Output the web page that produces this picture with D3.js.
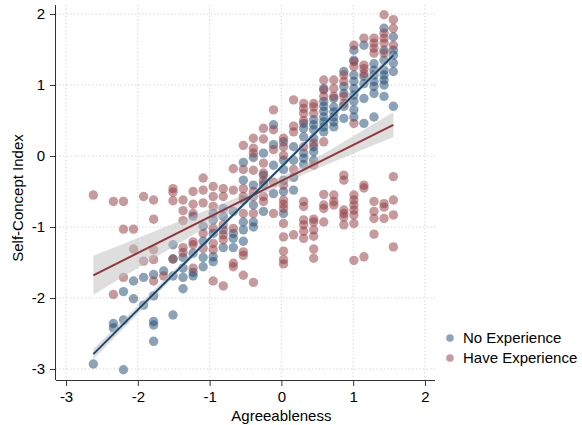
<!DOCTYPE html>
<html>
<head>
<meta charset="utf-8">
<script src="https://cdn.jsdelivr.net/npm/d3@7"></script>
<style>
    body { margin: 0; background: #fff; }
    svg text { font-family: "Liberation Sans", Arial, sans-serif; fill: #000; }
    .grid line { stroke: #cfcfcf; stroke-width: 1; stroke-dasharray: 1.2,2.4; }
</style>
</head>
<body>
<svg id="chart"></svg>
<script>
// Agreeableness takes discrete values (one column per level)
const agreeLevels = [-2.62, -2.48, -2.34, -2.20, -2.06, -1.92, -1.78, -1.64, -1.51, -1.37,
    -1.23, -1.09, -0.95, -0.81, -0.67, -0.53, -0.39, -0.25, -0.11, 0.03,
    0.17, 0.31, 0.45, 0.59, 0.73, 0.87, 1.01, 1.15, 1.29, 1.43, 1.56];

// Self-concept index values for each agreeableness level
const noExperience = [
    [-2.93], [], [-2.36, -2.42], [-1.91, -2.31, -3.01], [-1.76, -2.01],
    [-1.71, -2.10], [-1.67, -1.97, -2.33, -2.38, -2.61], [-1.62], [-1.25, -1.45, -1.69, -2.24],
    [-1.43, -1.58, -1.71, -1.87], [-0.85, -1.37, -1.64, -1.69], [-0.99, -1.20, -1.43, -1.56],
    [-0.81, -0.90, -1.09, -1.42, -1.49], [-0.74, -0.85, -1.04, -1.29], [-0.78, -1.09, -1.16, -1.29],
    [-0.09, -0.34, -0.62, -0.93, -1.04, -1.20], [-0.02, -0.41, -0.69, -0.93, -1.00],
    [0.04, -0.27, -0.40, -0.78], [0.44, 0.16, -0.13, -0.53],
    [0.20, -0.06, -0.19, -0.34, -0.50, -0.81], [0.13, -0.06, -0.30, -0.48],
    [0.46, 0.39, 0.27, 0.04, -0.03, -0.12], [0.51, 0.44, 0.37, 0.25, 0.13, 0.06, -0.06],
    [0.95, 0.77, 0.70, 0.63, 0.55, 0.48, 0.41, 0.34], [0.81, 0.69, 0.62, 0.55, 0.48, 0.41],
    [1.19, 0.98, 0.88, 0.70, 0.53], [1.49, 1.35, 1.14, 1.05, 0.95, 0.86, 0.77, 0.65, 0.55],
    [1.56, 1.12, 1.02, 0.81, 0.46], [1.30, 1.21, 1.14, 1.05, 0.98, 0.88, 0.55],
    [1.80, 1.49, 1.35, 1.21, 1.14, 1.07, 1.00, 0.84], [1.68, 1.49, 1.42, 1.31, 1.19, 0.70]
];

const haveExperience = [
    [-0.55], [], [-0.64, -1.95], [-0.64, -1.03, -1.71], [-1.03, -1.31],
    [-0.57, -1.48], [-0.62, -0.89, -1.32, -1.46, -1.76], [-1.69], [-0.46, -0.51, -0.63, -1.45],
    [-0.62, -0.77, -0.91, -1.29, -1.36], [-0.50, -0.68, -0.81, -1.21, -1.25, -1.58],
    [-0.31, -0.48, -0.66, -1.09, -1.30], [-0.43, -0.57, -0.71, -1.02, -1.23, -1.32, -1.76],
    [-0.46, -0.57, -0.97, -1.11, -1.18, -1.83], [-0.18, -0.48, -1.02, -1.51, -1.56],
    [0.15, -0.19, -0.46, -0.57, -0.81, -1.35, -1.40, -1.68],
    [0.25, 0.11, 0.04, -0.20, -0.50, -0.57, -0.81, -1.78],
    [0.39, 0.24, -0.10, -0.24, -0.35, -0.57, -0.64], [0.65, 0.37, 0.09, -0.37, -0.81],
    [0.25, 0.13, 0.01, -0.41, -0.62, -0.68, -0.74, -0.95, -1.14, -1.34, -1.46, -1.52],
    [0.79, 0.42, 0.34, -0.19, -1.11],
    [0.74, 0.67, 0.60, 0.50, 0.13, -0.64, -0.71, -0.90, -0.97, -1.06, -1.16],
    [0.74, 0.69, 0.60, 0.18, -0.13, -0.89, -0.93, -1.04, -1.13, -1.31, -1.44],
    [1.07, 0.93, 0.84, 0.20, -0.54, -0.69, -0.74, -0.93], [1.07, 0.95, 0.84, -0.55, -0.64, -0.69],
    [1.14, 1.05, 0.84, 0.74, -0.27, -0.34, -0.76, -0.81, -0.86, -0.97],
    [1.56, 1.33, 1.26, 0.46, -0.55, -0.62, -0.69, -0.76, -0.83, -0.95, -1.47],
    [1.66, 1.28, 1.23, 1.16, -0.41, -0.45, -1.42],
    [1.66, 1.59, 1.52, 1.45, -0.64, -0.78, -0.88, -1.10],
    [1.99, 1.73, 1.66, 1.59, 1.45, -0.67, -0.72, -0.88],
    [1.92, 1.80, 1.56, -0.29, -0.62, -0.83, -1.28]
];

// linear fits with 95% CI
const fitX = [-2.62, -2.0, -1.25, -0.5, 0.25, 1.0, 1.56];
const noExpFit = [-2.790, -2.166, -1.410, -0.655, 0.100, 0.855, 1.419];
const noExpLo = [-2.865, -2.224, -1.452, -0.685, 0.072, 0.815, 1.359];
const noExpHi = [-2.715, -2.108, -1.368, -0.625, 0.128, 0.895, 1.479];
const haveExpFit = [-1.680, -1.366, -0.986, -0.606, -0.225, 0.155, 0.439];
const haveExpLo = [-1.955, -1.578, -1.124, -0.680, -0.289, 0.033, 0.263];
const haveExpHi = [-1.405, -1.154, -0.848, -0.532, -0.161, 0.277, 0.615];

const xTicks = [-3, -2, -1, 0, 1, 2];
const yTicks = [-3, -2, -1, 0, 1, 2];
const groups = ['No Experience', 'Have Experience'];

const colors = {'No Experience': '#1a476f', 'Have Experience': '#90353b'};

const width = 582, height = 425;
const plot = {left: 56, right: 435, top: 5, bottom: 380};

const svg = d3.select('#chart')
    .attr('width', width)
    .attr('height', height);

// scales
const xScale = d3.scaleLinear()
    .domain([-3.14, 2.14])
    .range([plot.left, plot.right]);
const yScale = d3.scaleLinear()
    .domain([-3.155, 2.127])
    .range([plot.bottom, plot.top]);

// gridlines
const grid = svg.append('g').attr('class', 'grid');
grid.selectAll('.gx')
    .data(xTicks)
    .join('line')
    .attr('x1', d => xScale(d)).attr('x2', d => xScale(d))
    .attr('y1', plot.top).attr('y2', plot.bottom);
grid.selectAll('.gy')
    .data(yTicks)
    .join('line')
    .attr('class', 'gy')
    .attr('x1', plot.left).attr('x2', plot.right)
    .attr('y1', d => yScale(d)).attr('y2', d => yScale(d));

// flatten column data into points
const toPoints = (cols, group) => cols.flatMap((ys, i) => ys.map(y => ({x: agreeLevels[i], y: y, group: group})));
const points = toPoints(noExperience, groups[0]).concat(toPoints(haveExperience, groups[1]));

svg.append('g')
    .selectAll('circle')
    .data(points)
    .join('circle')
    .attr('cx', d => xScale(d.x))
    .attr('cy', d => yScale(d.y))
    .attr('r', 4.7)
    .attr('fill', d => colors[d.group])
    .attr('fill-opacity', 0.5);

// confidence bands
const band = d3.area()
    .x(d => xScale(d.x))
    .y0(d => yScale(d.lo))
    .y1(d => yScale(d.hi))
    .curve(d3.curveMonotoneX);
const fitLine = d3.line()
    .x(d => xScale(d.x))
    .y(d => yScale(d.y));

const fits = [
    {group: groups[1], y: haveExpFit, lo: haveExpLo, hi: haveExpHi},
    {group: groups[0], y: noExpFit, lo: noExpLo, hi: noExpHi}
].map(f => ({group: f.group, values: fitX.map((x, i) => ({x: x, y: f.y[i], lo: f.lo[i], hi: f.hi[i]}))}));

svg.append('g')
    .selectAll('path')
    .data(fits)
    .join('path')
    .attr('d', d => band(d.values))
    .attr('fill', '#bdbdbd')
    .attr('fill-opacity', 0.5);

svg.append('g')
    .selectAll('path')
    .data(fits)
    .join('path')
    .attr('d', d => fitLine([d.values[0], d.values[d.values.length - 1]]))
    .attr('fill', 'none')
    .attr('stroke', d => colors[d.group])
    .attr('stroke-width', 2);

// axes (plain hyphen minus, integer labels)
const xAxis = d3.axisBottom(xScale).tickValues(xTicks).tickFormat(d => String(d)).tickSize(6).tickPadding(5);
const yAxis = d3.axisLeft(yScale).tickValues(yTicks).tickFormat(d => String(d)).tickSize(6).tickPadding(5);

const xAxisG = svg.append('g')
    .attr('transform', `translate(0,${plot.bottom})`)
    .call(xAxis);
xAxisG.select('.domain').attr('d', `M${plot.left},0.5H${plot.right}`);

const yAxisG = svg.append('g')
    .attr('transform', `translate(${plot.left},0)`)
    .call(yAxis);
yAxisG.select('.domain').attr('d', `M-0.5,${plot.top}V${plot.bottom}`);

svg.selectAll('.tick text')
    .style('font-size', '15px')
    .style('font-family', '"Liberation Sans", Arial, sans-serif')
    .attr('fill', '#000');
svg.selectAll('.domain, .tick line').attr('stroke', '#333');

// axis titles
svg.append('text')
    .attr('x', xScale(0))
    .attr('y', 421)
    .attr('text-anchor', 'middle')
    .style('font-size', '15px')
    .text('Agreeableness');

svg.append('text')
    .attr('transform', `translate(23,198) rotate(-90)`)
    .attr('text-anchor', 'middle')
    .style('font-size', '15px')
    .text('Self-Concept Index');

// legend
const legend = svg.append('g')
    .selectAll('g')
    .data(groups)
    .join('g')
    .attr('transform', (d, i) => `translate(450,${338 + i * 20})`);
legend.append('circle')
    .attr('r', 3.8)
    .attr('fill', d => colors[d])
    .attr('fill-opacity', 0.5);
legend.append('text')
    .attr('x', 13)
    .attr('dy', '0.35em')
    .style('font-size', '15px')
    .text(d => d);
</script>
</body>
</html>
